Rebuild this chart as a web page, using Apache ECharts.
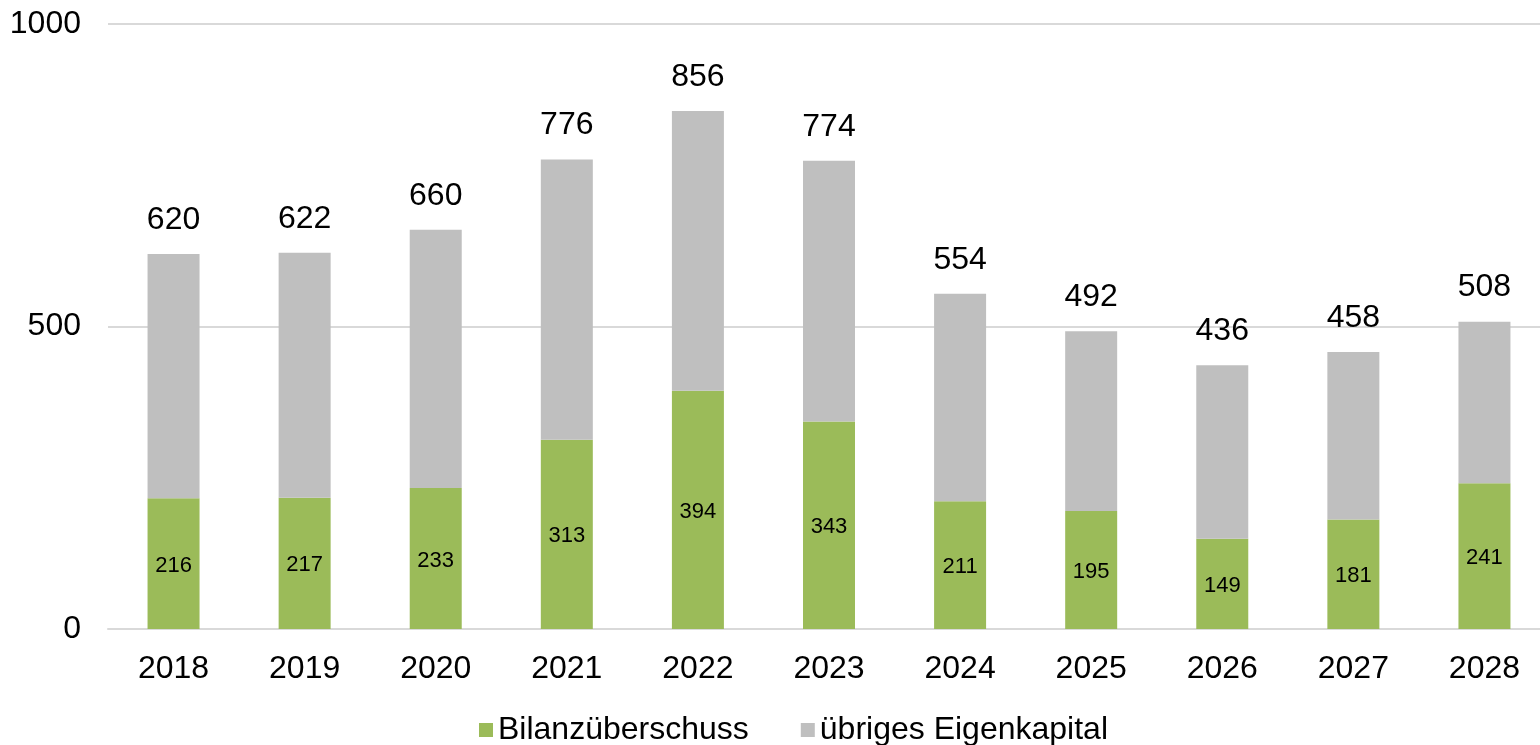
<!DOCTYPE html>
<html>
<head>
<meta charset="utf-8">
<script src="https://cdn.jsdelivr.net/npm/echarts@6/dist/echarts.min.js"></script>
<style>
  html, body { margin: 0; padding: 0; background: #ffffff; }
  #chart { width: 1540px; height: 745px; }
</style>
</head>
<body>
<div id="chart"></div>
<script>
// Jahre (Kategorien)
const years = ['2018', '2019', '2020', '2021', '2022', '2023', '2024', '2025', '2026', '2027', '2028'];
// Gesamtes Eigenkapital je Jahr
const totals = [620, 622, 660, 776, 856, 774, 554, 492, 436, 458, 508];
// Davon Bilanzüberschuss
const bilanzueberschuss = [216, 217, 233, 313, 394, 343, 211, 195, 149, 181, 241];
// Übriges Eigenkapital = Gesamt minus Bilanzüberschuss
const uebrigesEK = totals.map((t, i) => t - bilanzueberschuss[i]);
// Achsenbeschriftungen
const yTicks = [0, 500, 1000];

const FONT = 'Liberation Sans, Arial, sans-serif';
const chart = echarts.init(document.getElementById('chart'), null, { renderer: 'canvas' });

chart.setOption({
  backgroundColor: '#ffffff',
  animation: false,
  textStyle: { fontFamily: FONT, color: '#000000' },
  grid: {
    left: 108,
    top: 24,
    width: 1442,
    bottom: 116,
    containLabel: false,
    outerBoundsMode: 'none'
  },
  legend: {
    data: ['Bilanzüberschuss', 'übriges Eigenkapital'],
    left: 474,
    top: 709,
    icon: 'rect',
    itemWidth: 14,
    itemHeight: 14,
    itemGap: 52,
    textStyle: { fontFamily: FONT, fontSize: 32, color: '#000000' }
  },
  xAxis: {
    type: 'category',
    data: years,
    axisLine: { show: true, lineStyle: { color: '#D9D9D9', width: 2 } },
    axisTick: { show: false },
    axisLabel: { fontFamily: FONT, fontSize: 32, color: '#000000', margin: 24 }
  },
  yAxis: {
    type: 'value',
    min: yTicks[0],
    max: yTicks[yTicks.length - 1],
    interval: yTicks[1] - yTicks[0],
    axisLine: { show: false },
    axisTick: { show: false },
    splitLine: { lineStyle: { color: '#D9D9D9', width: 2 } },
    axisLabel: {
      fontFamily: FONT,
      fontSize: 32,
      color: '#000000',
      margin: 27,
      formatter: v => String(v)
    }
  },
  series: [
    {
      name: 'Bilanzüberschuss',
      type: 'bar',
      stack: 'ek',
      barWidth: 52,
      data: bilanzueberschuss,
      itemStyle: { color: '#9BBB59' },
      label: {
        show: true,
        position: 'inside',
        offset: [0, 2],
        fontFamily: FONT,
        fontSize: 22,
        color: '#000000'
      }
    },
    {
      name: 'übriges Eigenkapital',
      type: 'bar',
      stack: 'ek',
      barWidth: 52,
      data: uebrigesEK,
      itemStyle: { color: '#BFBFBF' },
      label: {
        show: true,
        position: 'top',
        distance: 18,
        fontFamily: FONT,
        fontSize: 32,
        color: '#000000',
        formatter: p => String(totals[p.dataIndex])
      }
    }
  ]
});
</script>
</body>
</html>
